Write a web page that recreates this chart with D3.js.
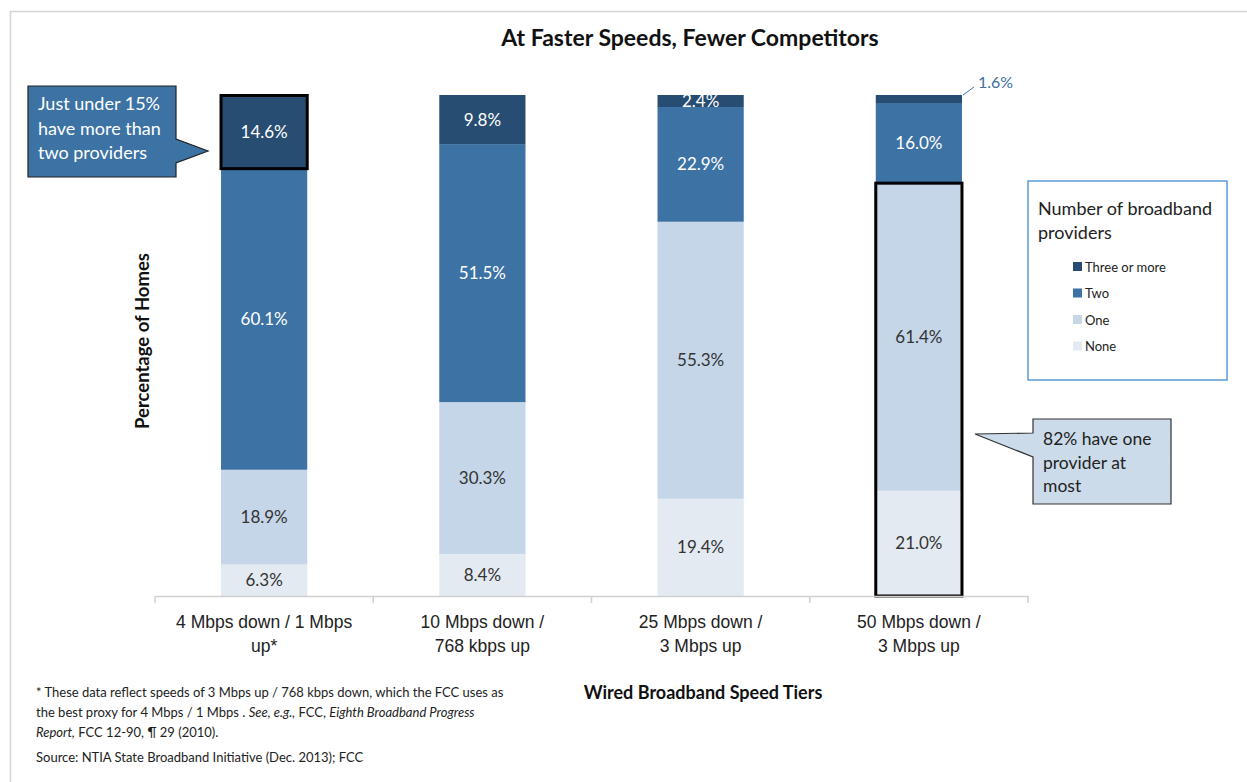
<!DOCTYPE html>
<html>
<head>
<meta charset="utf-8">
<script src="https://cdn.jsdelivr.net/npm/d3@7"></script>
<style>
  body { margin: 0; background: #fff; }
  svg { font-family: Lato, "Open Sans", sans-serif; }
</style>
</head>
<body>
<div id="chart"></div>
<script>
// data
var tiers = ['4 Mbps down / 1 Mbps up*', '10 Mbps down / 768 kbps up', '25 Mbps down / 3 Mbps up', '50 Mbps down / 3 Mbps up'];
var tierLines = [['4 Mbps down / 1 Mbps', 'up*'], ['10 Mbps down /', '768 kbps up'], ['25 Mbps down /', '3 Mbps up'], ['50 Mbps down /', '3 Mbps up']];
var noneVals = [6.3, 8.4, 19.4, 21.0];
var oneVals = [18.9, 30.3, 55.3, 61.4];
var twoVals = [60.1, 51.5, 22.9, 16.0];
var threeVals = [14.6, 9.8, 2.4, 1.6];

var keys = ['none', 'one', 'two', 'three'];
var keyNames = {three: 'Three or more', two: 'Two', one: 'One', none: 'None'};
var colors = {three: '#284d72', two: '#3d72a4', one: '#c5d6e8', none: '#e3eaf2'};
var labelColors = {three: '#fff', two: '#fff', one: '#333', none: '#333'};

var rows = tiers.map(function(t, i) {
  return {tier: t, none: noneVals[i], one: oneVals[i], two: twoVals[i], three: threeVals[i]};
});

var width = 1247, height = 782;
var margin = {top: 95, left: 155, right: 219, bottom: 186};

var svg = d3.select('#chart').append('svg')
  .attr('width', width)
  .attr('height', height);

// frame (only top and left edge visible)
svg.append('path')
  .attr('d', 'M10.5,782 L10.5,11.5 L1247,11.5')
  .attr('fill', 'none')
  .attr('stroke', '#d4d4d4')
  .attr('stroke-width', 1.5);

var x = d3.scaleBand().domain(tiers)
  .range([margin.left, width - margin.right])
  .paddingInner(0.605).paddingOuter(0.3025);
var y = d3.scaleLinear().domain([0, 100]).range([height - margin.bottom, margin.top]);

var series = d3.stack().keys(keys)(rows);

// title
svg.append('text')
  .attr('x', 690).attr('y', 46)
  .attr('text-anchor', 'middle')
  .style('font-size', '23px').style('font-weight', 'bold').attr('fill', '#111')
  .text('At Faster Speeds, Fewer Competitors');

// bars
var layers = svg.append('g').selectAll('g')
  .data(series).enter().append('g')
  .attr('fill', function(d) { return colors[d.key]; });

layers.selectAll('rect')
  .data(function(d) { return d; })
  .enter().append('rect')
  .attr('x', function(d) { return x(d.data.tier); })
  .attr('width', x.bandwidth())
  .attr('y', function(d) { return y(d[1]); })
  .attr('height', function(d) { return y(d[0]) - y(d[1]); });

// value labels
series.forEach(function(s) {
  s.forEach(function(d, i) {
    var v = d[1] - d[0];
    var cx = x(d.data.tier) + x.bandwidth() / 2;
    if (s.key === 'three' && i === 3) {
      // small segment: label outside with leader line
      svg.append('line')
        .attr('x1', x(d.data.tier) + x.bandwidth() + 1).attr('y1', y(d[1]))
        .attr('x2', x(d.data.tier) + x.bandwidth() + 12).attr('y2', y(d[1]) - 8)
        .attr('stroke', '#3d72a4').attr('stroke-width', 1);
      svg.append('text')
        .attr('x', x(d.data.tier) + x.bandwidth() + 16).attr('y', y(d[1]) - 7)
        .style('font-size', '16px').attr('fill', '#3d6ea0')
        .text(v.toFixed(1) + '%');
      return;
    }
    svg.append('text')
      .attr('x', cx)
      .attr('y', (y(d[0]) + y(d[1])) / 2 + 6)
      .attr('text-anchor', 'middle')
      .style('font-size', '17px')
      .attr('fill', labelColors[s.key])
      .text(v.toFixed(1) + '%');
  });
});

// highlight outlines
var b0 = series[3][0];
svg.append('rect')
  .attr('x', x(tiers[0])).attr('y', y(b0[1]))
  .attr('width', x.bandwidth()).attr('height', y(b0[0]) - y(b0[1]))
  .attr('fill', 'none').attr('stroke', '#000').attr('stroke-width', 3);
var b3 = series[1][3];
svg.append('rect')
  .attr('x', x(tiers[3])).attr('y', y(b3[1]))
  .attr('width', x.bandwidth()).attr('height', y(0) - y(b3[1]))
  .attr('fill', 'none').attr('stroke', '#000').attr('stroke-width', 3);

// x axis
var xAxis = d3.axisBottom(x).tickSize(0).tickFormat('');
var axisG = svg.append('g')
  .attr('transform', 'translate(0,' + y(0) + ')')
  .call(xAxis);
axisG.select('.domain').attr('stroke', '#d0d0d0').attr('stroke-width', 1.5);
// boundary ticks between categories
var step = x.step();
d3.range(tiers.length + 1).forEach(function(i) {
  var tx = margin.left + i * step;
  axisG.append('line').attr('x1', tx).attr('x2', tx).attr('y1', 0).attr('y2', 7)
    .attr('stroke', '#d0d0d0').attr('stroke-width', 1.5);
});
tiers.forEach(function(t, i) {
  var tt = axisG.append('text')
    .attr('text-anchor', 'middle')
    .attr('fill', '#222')
    .style('font-size', '17.5px');
  tierLines[i].forEach(function(line, j) {
    tt.append('tspan').attr('x', x(t) + x.bandwidth() / 2).attr('y', 32 + j * 24).text(line);
  });
});

// axis titles
svg.append('text')
  .attr('transform', 'translate(149,341) rotate(-90)')
  .attr('text-anchor', 'middle')
  .style('font-size', '18.5px').style('font-weight', 'bold').attr('fill', '#111')
  .text('Percentage of Homes');
svg.append('text')
  .attr('x', 703).attr('y', 699)
  .attr('text-anchor', 'middle')
  .style('font-size', '18px').style('font-weight', 'bold').attr('fill', '#111')
  .text('Wired Broadband Speed Tiers');

// legend
var lg = svg.append('g').attr('transform', 'translate(1028,181)');
lg.append('rect').attr('width', 199).attr('height', 199)
  .attr('fill', '#fff').attr('stroke', '#5b9bd5').attr('stroke-width', 1.5);
lg.append('text').attr('x', 10).attr('y', 34).style('font-size', '18px').attr('fill', '#222').text('Number of broadband');
lg.append('text').attr('x', 10).attr('y', 58).style('font-size', '18px').attr('fill', '#222').text('providers');
keys.slice().reverse().forEach(function(k, i) {
  var row = lg.append('g').attr('transform', 'translate(45,' + (81 + i * 26.5) + ')');
  row.append('rect').attr('width', 9).attr('height', 9).attr('fill', colors[k]);
  row.append('text').attr('x', 12).attr('y', 9.5).style('font-size', '13px').attr('fill', '#222').text(keyNames[k]);
});

// callout 1 (dark)
svg.append('path')
  .attr('d', 'M28,86 L176,86 L176,139 L208,151 L176,163 L176,177 L28,177 Z')
  .attr('fill', '#3d72a4').attr('stroke', '#222').attr('stroke-width', 1.2);
['Just under 15%', 'have more than', 'two providers'].forEach(function(line, i) {
  svg.append('text').attr('x', 38).attr('y', 110 + i * 24.5)
    .style('font-size', '18px').attr('fill', '#fff').text(line);
});

// callout 2 (light)
svg.append('path')
  .attr('d', 'M1033,419 L1171,419 L1171,504 L1033,504 L1033,457 L975,434 L1033,433 Z')
  .attr('fill', '#ccdbea').attr('stroke', '#333').attr('stroke-width', 1.2);
['82% have one', 'provider at', 'most'].forEach(function(line, i) {
  svg.append('text').attr('x', 1043).attr('y', 445 + i * 23.5)
    .style('font-size', '17.5px').attr('fill', '#222').text(line);
});

// footnotes
var fn = svg.append('g').style('font-size', '13px').attr('fill', '#222');
fn.append('text').attr('x', 36).attr('y', 697)
  .text('* These data reflect speeds of 3 Mbps up / 768 kbps down, which the FCC uses as');
var l2 = fn.append('text').attr('x', 36).attr('y', 717);
l2.append('tspan').text('the best proxy for 4 Mbps / 1 Mbps .  ');
l2.append('tspan').style('font-style', 'italic').text('See, e.g.,');
l2.append('tspan').text(' FCC, ');
l2.append('tspan').style('font-style', 'italic').text('Eighth Broadband Progress');
var l3 = fn.append('text').attr('x', 36).attr('y', 737);
l3.append('tspan').style('font-style', 'italic').text('Report,');
l3.append('tspan').text(' FCC 12-90, \u00b6 29 (2010).');
fn.append('text').attr('x', 36).attr('y', 762)
  .text('Source:  NTIA State Broadband Initiative (Dec. 2013); FCC');
</script>
</body>
</html>
